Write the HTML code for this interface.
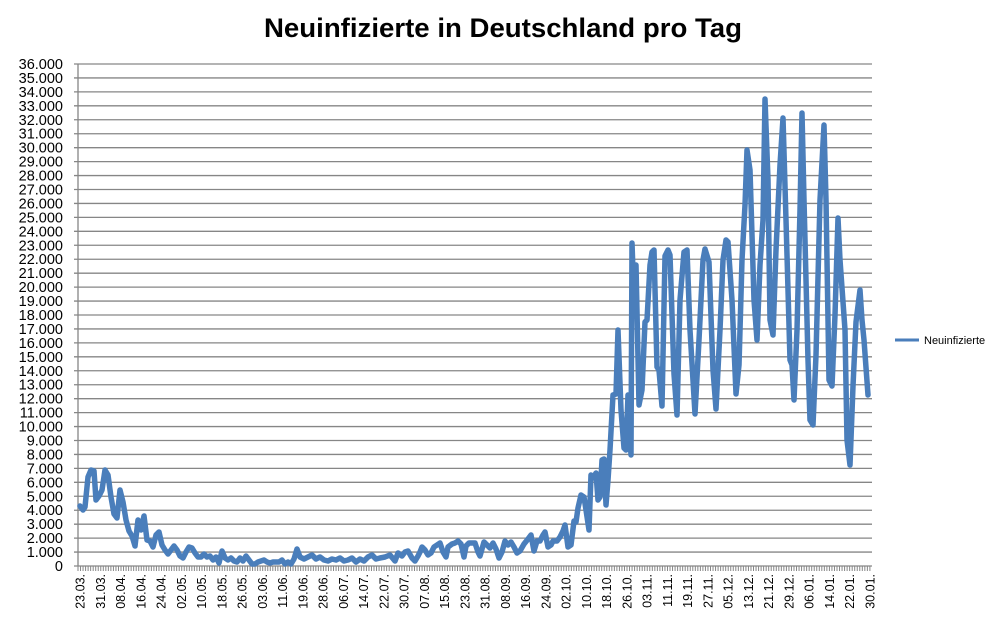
<!DOCTYPE html>
<html><head><meta charset="utf-8"><style>
body{margin:0;background:#fff;}
svg{display:block;font-family:"Liberation Sans",sans-serif;}
</style></head><body>
<svg width="1001" height="632" viewBox="0 0 1001 632" xmlns="http://www.w3.org/2000/svg">
<rect width="1001" height="632" fill="#fff"/>
<text x="503" y="37" text-anchor="middle" font-size="27" font-weight="bold" fill="#000" textLength="478" lengthAdjust="spacingAndGlyphs">Neuinfizierte in Deutschland pro Tag</text>
<path stroke="#868686" stroke-width="1.3" fill="none" d="M74 566H872M74 552.06H872M74 538.11H872M74 524.17H872M74 510.22H872M74 496.28H872M74 482.33H872M74 468.39H872M74 454.44H872M74 440.5H872M74 426.56H872M74 412.61H872M74 398.67H872M74 384.72H872M74 370.78H872M74 356.83H872M74 342.89H872M74 328.94H872M74 315H872M74 301.06H872M74 287.11H872M74 273.17H872M74 259.22H872M74 245.28H872M74 231.33H872M74 217.39H872M74 203.44H872M74 189.5H872M74 175.56H872M74 161.61H872M74 147.67H872M74 133.72H872M74 119.78H872M74 105.83H872M74 91.89H872M74 77.94H872M74 64H872M78 64V566"/>
<line x1="77.5" y1="568.5" x2="871" y2="568.5" stroke="#868686" stroke-width="5" stroke-dasharray="1 1.53"/>
<g font-size="14.5" fill="#000" text-anchor="end">
<text x="63" y="571">0</text><text x="63" y="557.06">1.000</text><text x="63" y="543.11">2.000</text><text x="63" y="529.17">3.000</text><text x="63" y="515.22">4.000</text><text x="63" y="501.28">5.000</text><text x="63" y="487.33">6.000</text><text x="63" y="473.39">7.000</text><text x="63" y="459.44">8.000</text><text x="63" y="445.5">9.000</text><text x="63" y="431.56">10.000</text><text x="63" y="417.61">11.000</text><text x="63" y="403.67">12.000</text><text x="63" y="389.72">13.000</text><text x="63" y="375.78">14.000</text><text x="63" y="361.83">15.000</text><text x="63" y="347.89">16.000</text><text x="63" y="333.94">17.000</text><text x="63" y="320">18.000</text><text x="63" y="306.06">19.000</text><text x="63" y="292.11">20.000</text><text x="63" y="278.17">21.000</text><text x="63" y="264.22">22.000</text><text x="63" y="250.28">23.000</text><text x="63" y="236.33">24.000</text><text x="63" y="222.39">25.000</text><text x="63" y="208.44">26.000</text><text x="63" y="194.5">27.000</text><text x="63" y="180.56">28.000</text><text x="63" y="166.61">29.000</text><text x="63" y="152.67">30.000</text><text x="63" y="138.72">31.000</text><text x="63" y="124.78">32.000</text><text x="63" y="110.83">33.000</text><text x="63" y="96.89">34.000</text><text x="63" y="82.94">35.000</text><text x="63" y="69">36.000</text>
</g>
<g font-size="12.5" fill="#000" text-anchor="end">
<text transform="translate(84.5,574) rotate(-90)">23.03.</text>
<text transform="translate(104.8,574) rotate(-90)">31.03.</text>
<text transform="translate(125,574) rotate(-90)">08.04.</text>
<text transform="translate(145.3,574) rotate(-90)">16.04.</text>
<text transform="translate(165.5,574) rotate(-90)">24.04.</text>
<text transform="translate(185.8,574) rotate(-90)">02.05.</text>
<text transform="translate(206,574) rotate(-90)">10.05.</text>
<text transform="translate(226.3,574) rotate(-90)">18.05.</text>
<text transform="translate(246.5,574) rotate(-90)">26.05.</text>
<text transform="translate(266.8,574) rotate(-90)">03.06.</text>
<text transform="translate(287.1,574) rotate(-90)">11.06.</text>
<text transform="translate(307.3,574) rotate(-90)">19.06.</text>
<text transform="translate(327.6,574) rotate(-90)">28.06.</text>
<text transform="translate(347.8,574) rotate(-90)">06.07.</text>
<text transform="translate(368.1,574) rotate(-90)">14.07.</text>
<text transform="translate(388.3,574) rotate(-90)">22.07.</text>
<text transform="translate(408.6,574) rotate(-90)">30.07.</text>
<text transform="translate(428.9,574) rotate(-90)">07.08.</text>
<text transform="translate(449.1,574) rotate(-90)">15.08.</text>
<text transform="translate(469.4,574) rotate(-90)">23.08.</text>
<text transform="translate(489.6,574) rotate(-90)">31.08.</text>
<text transform="translate(509.9,574) rotate(-90)">08.09.</text>
<text transform="translate(530.1,574) rotate(-90)">16.09.</text>
<text transform="translate(550.4,574) rotate(-90)">24.09.</text>
<text transform="translate(570.6,574) rotate(-90)">02.10.</text>
<text transform="translate(590.9,574) rotate(-90)">10.10.</text>
<text transform="translate(611.2,574) rotate(-90)">18.10.</text>
<text transform="translate(631.4,574) rotate(-90)">26.10.</text>
<text transform="translate(651.7,574) rotate(-90)">03.11.</text>
<text transform="translate(671.9,574) rotate(-90)">11.11.</text>
<text transform="translate(692.2,574) rotate(-90)">19.11.</text>
<text transform="translate(712.4,574) rotate(-90)">27.11.</text>
<text transform="translate(732.7,574) rotate(-90)">05.12.</text>
<text transform="translate(752.9,574) rotate(-90)">13.12.</text>
<text transform="translate(773.2,574) rotate(-90)">21.12.</text>
<text transform="translate(793.5,574) rotate(-90)">29.12.</text>
<text transform="translate(813.7,574) rotate(-90)">06.01.</text>
<text transform="translate(834,574) rotate(-90)">14.01.</text>
<text transform="translate(854.2,574) rotate(-90)">22.01.</text>
<text transform="translate(874.5,574) rotate(-90)">30.01.</text>
</g>
<polyline fill="none" stroke="#4a7ebb" stroke-width="5.5" stroke-linejoin="round" stroke-linecap="round" points="80,506 83,510 85,507 88,477 91,470 94,471 96,500 99,496 102,490 105,470 108,475 111,497 114,514 117,518 120,490 123,502 126,520 129,531 132,536 135,546 138,520 141,530 144,516 147,540 150,541 153,547 156,535 159,532 162,545 165,550 168,554 171,550 174,546 177,550 180,556 183,558 186,552 189,547 192,548 195,553 198,557 201,557 204,554 207,557 210,556 213,560 216,557 219,563 222,551 225,558 228,560 231,558 234,561 237,562 240,558 243,561 246,556 249,560 252,564 255,564 258,562 261,561 264,560 267,562 270,563 273,562 276,562 279,562 282,560 285,564 288,562 291,564 294,559 297,549 300,557 304,559 308,557 312,555 316,559 320,557 324,560 328,561 332,559 336,560 340,558 344,561 348,560 352,558 356,562 360,559 364,561 368,557 372,555 376,559 380,558 385,557 390,555 395,561 398,553 402,556 405,552 408,551 412,558 415,561 418,556 420,552 422,547 425,550 428,555 431,553 434,547 437,545 440,543 443,552 446,557 448,547 452,544 455,543 458,541 461,544 464,557 466,546 469,543 472,543 475,543 478,552 480,556 484,542 487,545 490,548 493,543 496,549 499,558 502,552 505,541 508,545 511,542 514,547 517,553 520,551 524,544 528,539 531,535 534,551 537,541 540,541 543,535 545,532 548,547 551,545 553,541 557,541 560,537 563,531 565,525 568,547 571,545 574,521 576,522 578,508 581,495 584,497 586,510 589,530 591,475 593,478 596,473 598,500 600,497 602,460 604,459 606,505 608,480 610,450 613,395 616,394 618,330 621,410 624,448 626,450 628,395 631,455 632,243 634,300 636,265 639,405 642,390 645,322 647,320 650,265 652,252 654,250 657,367 659,370 662,406 665,256 668,250 670,255 674,374 677,415 680,300 684,252 687,250 690,330 695,414 699,340 703,260 705,249 709,262 713,370 716,409 720,330 723,260 726,240 728,242 732,300 736,394 739,365 742,260 745,205 747,150 750,170 754,300 757,340 760,265 763,220 765,99 768,180 770,320 773,335 776,250 780,165 783,118 786,220 790,360 792,365 794,400 797,330 800,210 802,113 804,200 808,360 810,420 813,425 816,355 820,200 824,125 826,200 829,380 832,386 835,315 838,218 840,260 845,330 847,440 850,465 853,386 856,322 860,290 862,320 864,340 868,395"/>
<line x1="895" y1="340" x2="919" y2="340" stroke="#4a7ebb" stroke-width="3"/>
<text x="924" y="344" font-size="11" fill="#000">Neuinfizierte</text>
</svg>
</body></html>
